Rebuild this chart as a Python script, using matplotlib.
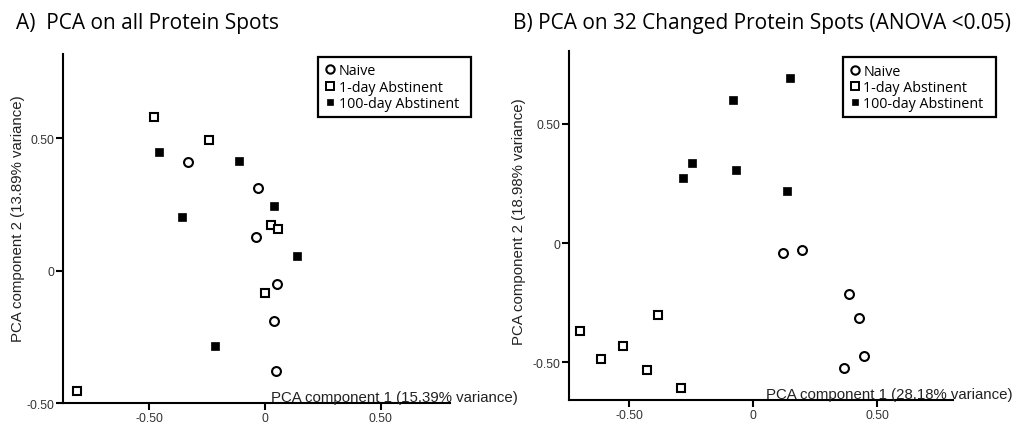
import matplotlib
matplotlib.use("Agg")
import matplotlib.pyplot as plt
from matplotlib.lines import Line2D

# ---- Data: Panel A (all protein spots) ----
a_naive_x = [-0.332, -0.029, -0.036, 0.055, 0.039, 0.048]
a_naive_y = [0.411, 0.313, 0.127, -0.051, -0.189, -0.378]
a_day1_x = [-0.480, -0.239, -0.811, 0.026, 0.058, 0.003]
a_day1_y = [0.579, 0.494, -0.455, 0.174, 0.159, -0.084]
a_day100_x = [-0.457, -0.113, -0.358, 0.041, 0.140, -0.215]
a_day100_y = [0.450, 0.414, 0.203, 0.243, 0.054, -0.283]

# ---- Data: Panel B (32 changed spots) ----
b_naive_x = [0.120, 0.198, 0.386, 0.427, 0.448, 0.366]
b_naive_y = [-0.042, -0.029, -0.215, -0.314, -0.472, -0.524]
b_day1_x = [-0.698, -0.615, -0.527, -0.429, -0.383, -0.293]
b_day1_y = [-0.370, -0.485, -0.430, -0.532, -0.300, -0.609]
b_day100_x = [0.147, -0.081, -0.246, -0.285, -0.069, 0.137]
b_day100_y = [0.693, 0.600, 0.336, 0.272, 0.305, 0.219]

group_labels = ["Naive", "1-day Abstinent", "100-day Abstinent"]
tick_values = [-0.5, 0, 0.5]
tick_labels = ["-0.50", "0", "0.50"]

titles = ["A)  PCA on all Protein Spots",
          "B) PCA on 32 Changed Protein Spots (ANOVA <0.05)"]
xlabels = ["PCA component 1 (15.39% variance)",
           "PCA component 1 (28.18% variance)"]
ylabels = ["PCA component 2 (13.89% variance)",
           "PCA component 2 (18.98% variance)"]

W, H = 1023, 427
fig = plt.figure(figsize=(W / 100, H / 100), dpi=100)

def fx(px):
    return px / W

def fy(py):
    return 1 - py / H

panels = [
    dict(rect=[fx(63.3), fy(404.3), fx(450 - 63.3), (404.3 - 55) / H],
         xlim=(-0.87, 0.80), ylim=(-0.50, 0.818),
         data=[(a_naive_x, a_naive_y), (a_day1_x, a_day1_y), (a_day100_x, a_day100_y)],
         title_xy=(16, 29), xlab_xy=(518, 402), ylab_xy=(18, 219),
         leg_box=(318, 58, 153)),
    dict(rect=[fx(569), fy(401), fx(953.3 - 569), (401 - 51.7) / H],
         xlim=(-0.744, 0.807), ylim=(-0.658, 0.806),
         data=[(b_naive_x, b_naive_y), (b_day1_x, b_day1_y), (b_day100_x, b_day100_y)],
         title_xy=(513, 29), xlab_xy=(1013, 399), ylab_xy=(519, 222),
         leg_box=(842.7, 58.3, 153.3)),
]

styles = [
    dict(marker="o", markersize=6.4, markerfacecolor="white", markeredgecolor="black", markeredgewidth=1.5),
    dict(marker="s", markersize=5.5, markerfacecolor="white", markeredgecolor="black", markeredgewidth=1.5),
    dict(marker="s", markersize=5.3, markerfacecolor="black", markeredgecolor="black", markeredgewidth=0.5),
]

for i, p in enumerate(panels):
    ax = fig.add_axes(p["rect"])
    for (xs, ys), st, lab in zip(p["data"], styles, group_labels):
        ax.plot(xs, ys, linestyle="none", label=lab, zorder=3, **st)
    ax.set_xlim(*p["xlim"])
    ax.set_ylim(*p["ylim"])
    ax.spines["top"].set_visible(False)
    ax.spines["right"].set_visible(False)
    for s in ("left", "bottom"):
        ax.spines[s].set_linewidth(1.5)
    ax.set_xticks(tick_values)
    ax.set_xticklabels(tick_labels)
    ax.set_yticks(tick_values)
    ax.set_yticklabels(tick_labels)
    ax.tick_params(direction="out", length=5, width=1.5, labelsize=8.8,
                   labelcolor="#333333", pad=1.5)
    for t in ax.get_xticklabels() + ax.get_yticklabels():
        t.set_fontfamily("Liberation Sans")

    fig.text(fx(p["title_xy"][0]), fy(p["title_xy"][1]), titles[i],
             family="Open Sans", fontsize=15, ha="left", va="baseline")
    fig.text(fx(p["xlab_xy"][0]), fy(p["xlab_xy"][1]), xlabels[i],
             family="Liberation Sans", fontsize=10.8, ha="right", va="baseline",
             color="#222222")
    fig.text(fx(p["ylab_xy"][0]), fy(p["ylab_xy"][1]), ylabels[i],
             family="Liberation Sans", fontsize=10.8, ha="center", va="center",
             rotation=90, color="#222222")

    handles = [
        Line2D([], [], linestyle="none", marker="o", markersize=6.0,
               markerfacecolor="white", markeredgecolor="black", markeredgewidth=1.5),
        Line2D([], [], linestyle="none", marker="s", markersize=5.2,
               markerfacecolor="white", markeredgecolor="black", markeredgewidth=1.4),
        Line2D([], [], linestyle="none", marker="s", markersize=5.0,
               markerfacecolor="black", markeredgecolor="black", markeredgewidth=0.5),
    ]
    lx, ly, lw = p["leg_box"]
    leg = ax.legend(handles, group_labels, loc="upper left", mode="expand",
                    bbox_to_anchor=(fx(lx), fy(ly) - 0.01, fx(lw), 0.01),
                    bbox_transform=fig.transFigure, borderaxespad=0,
                    prop=dict(family="Open Sans", size=10.3),
                    frameon=True, fancybox=False, framealpha=1,
                    handlelength=0.8, handletextpad=0.2, labelspacing=0.08,
                    borderpad=0.45, edgecolor="black")
    leg.get_frame().set_linewidth(1.6)

fig.savefig("out.png", dpi=100)
